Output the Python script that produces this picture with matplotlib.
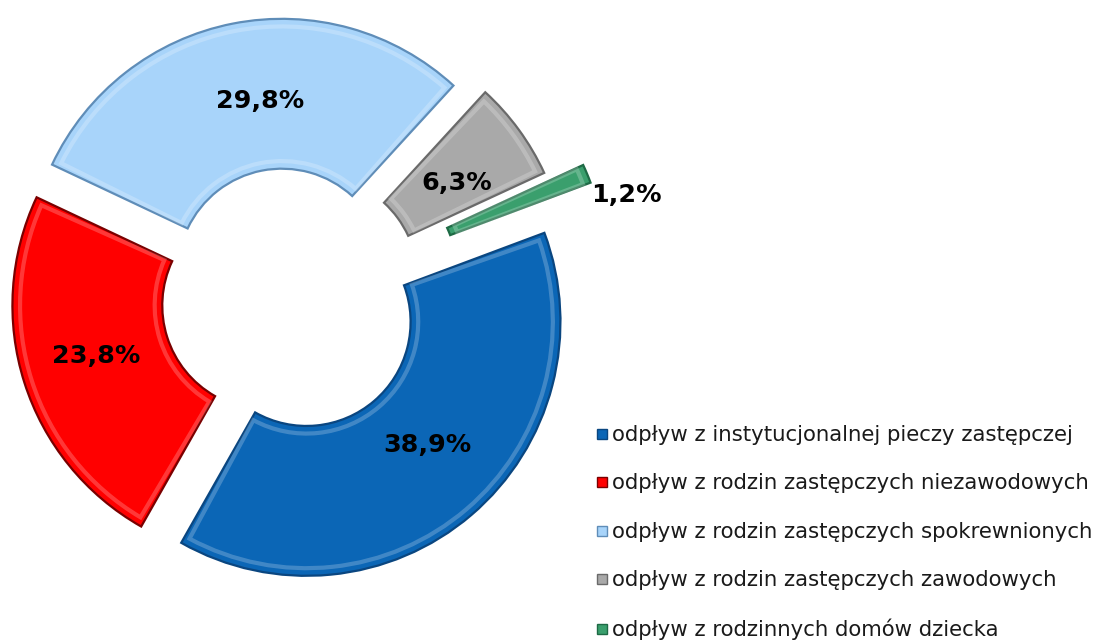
import matplotlib
matplotlib.use("Agg")
import matplotlib.pyplot as plt
from matplotlib.patches import Shadow, Wedge
from matplotlib.lines import Line2D
import numpy as np

# data
categories = [
    "odpływ z instytucjonalnej pieczy zastępczej",
    "odpływ z rodzin zastępczych niezawodowych",
    "odpływ z rodzin zastępczych spokrewnionych",
    "odpływ z rodzin zastępczych zawodowych",
    "odpływ z rodzinnych domów dziecka",
]
shares = [38.9, 23.8, 29.8, 6.3, 1.2]
labels = ["38,9%", "23,8%", "29,8%", "6,3%", "1,2%"]

# styles
colors = ["#0B66B6", "#FF0000", "#A8D4FA", "#A9A9A9", "#3A9F6D"]
edges = ["#0A4680", "#7A0000", "#5F8DB8", "#6A6A6A", "#1E6A45"]
explode = [0.118, 0.085, 0.105, 0.13, 0.28]
label_dist = [0.68, 0.70, 0.68, 0.68, None]
label_turn = [4, -1, -4, -2, 0]   # small angular nudges of the labels (deg)

W, H = 1098, 641
R = 254.0            # pixels per radius unit
cx, cy = 287, 299    # pie centre in pixels (from top-left)

fig = plt.figure(figsize=(W / 100, H / 100), dpi=100)
ax = fig.add_axes([0, 0, 1, 1])

wedges, _ = ax.pie(
    shares, colors=colors, explode=explode, startangle=20.5,
    counterclock=False, radius=1.0, normalize=True,
    wedgeprops=dict(width=0.59, linewidth=1.6),
)
ax.set_xlim(-cx / R, (W - cx) / R)
ax.set_ylim(-(H - cy) / R, cy / R)
ax.set_aspect("equal")
ax.axis("off")

for w, ec, lab, d, turn in zip(wedges, edges, labels, label_dist, label_turn):
    w.set_edgecolor(ec)
    w.set_zorder(3)
    # soft drop shadow (several layers)
    for ox, oy in [(3, -3), (4, -5), (6, -6), (7, -8), (9, -9)]:
        s = Shadow(w, ox, oy, facecolor="black", edgecolor="none", alpha=0.09)
        s.set_zorder(1)
        ax.add_patch(s)
    # bevel highlight
    t1, t2 = w.theta1, w.theta2
    dt = 1.2 if (t2 - t1) > 10 else 0.3
    hl = Wedge(w.center, w.r - 0.03, t1 + dt, t2 - dt, width=w.width - 0.06,
               facecolor="none", edgecolor="white", linewidth=3, alpha=0.22, zorder=4)
    ax.add_patch(hl)

    mid = np.deg2rad((t1 + t2) / 2 + turn)
    x0, y0 = w.center
    if d is not None:
        ax.text(x0 + d * np.cos(mid), y0 + d * np.sin(mid), lab,
                ha="center", va="center", fontsize=18.3, fontweight="bold", zorder=6)
    else:
        ax.annotate(lab, xy=(x0 + np.cos(mid), y0 + np.sin(mid)),
                    xytext=(3, -15), textcoords="offset points",
                    ha="left", va="center", fontsize=18.3, fontweight="bold", zorder=6)

handles = [Line2D([], [], linestyle="none", marker="s", markersize=7.5,
                  markerfacecolor=c, markeredgecolor=e, markeredgewidth=1.0)
           for c, e in zip(colors, edges)]
leg = ax.legend(handles, categories, loc="upper left",
                bbox_to_anchor=(596 / W, 1 - 425 / H), frameon=False,
                fontsize=15.3, handlelength=0.55, handletextpad=0.2,
                labelspacing=1.34, borderpad=0, borderaxespad=0)
for t in leg.get_texts():
    t.set_color("#1a1a1a")

fig.savefig("out.png", dpi=100)
